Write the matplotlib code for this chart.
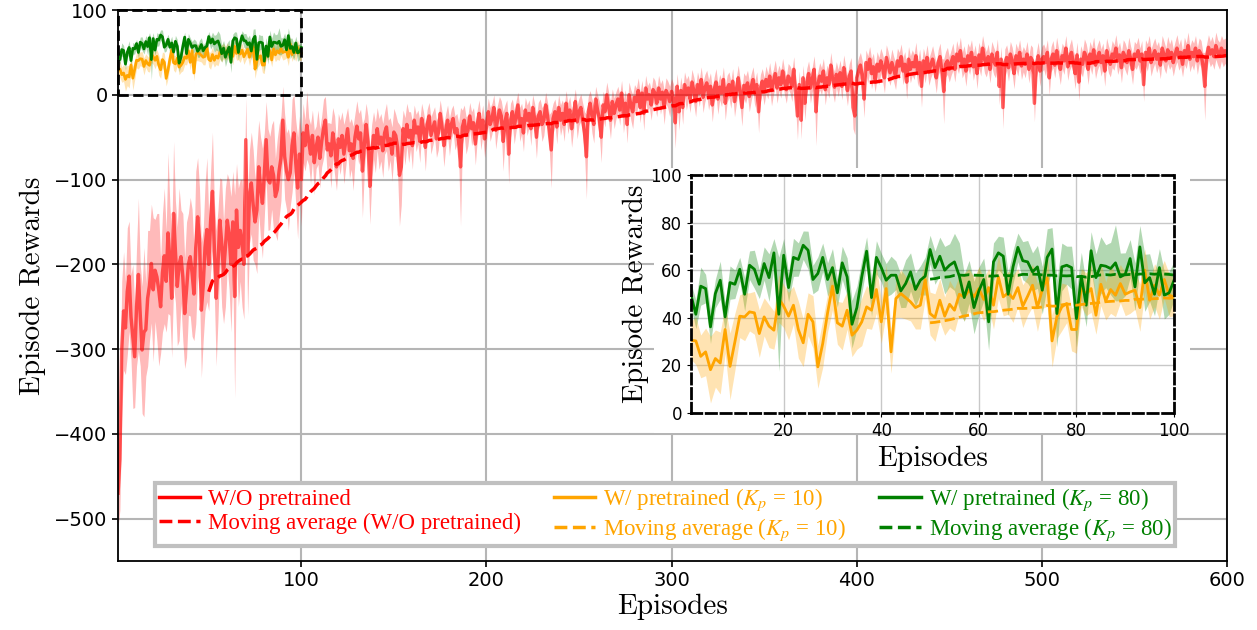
import numpy as np
import pandas as pd
import matplotlib
matplotlib.use('Agg')
import matplotlib.pyplot as plt
from matplotlib.patches import Rectangle
from matplotlib.lines import Line2D

plt.rcParams['mathtext.fontset'] = 'stix'

# ---- episode rewards, no pretraining (600 episodes) ----
red_mean = [
    -470, -430, -300, -255, -275, -232, -214, -262, -285, -309,
    -250, -212, -260, -301, -280, -277, -240, -225, -199, -230,
    -207, -215, -230, -250, -210, -190, -220, -163, -195, -240,
    -140, -185, -226, -200, -191, -215, -258, -230, -200, -191,
    -210, -235, -180, -144, -170, -254, -225, -180, -159, -200,
    -150, -114, -180, -240, -200, -148, -175, -210, -180, -148,
    -165, -200, -150, -238, -136, -180, -160, -175, -200, -53,
    -190, -120, -104, -130, -150, -136, -85, -110, -128, -95,
    -53, -100, -104, -85, -95, -120, -112, -90, -75, -30,
    -73, -90, -100, -92, -60, -45, -80, -110, -70, -100,
    -45, -60, -36, -55, -70, -48, -80, -62, -50, -75,
    -55, -40, -30, -65, -58, -72, -45, -60, -85, -52,
    -62, -48, -70, -55, -40, -66, -58, -75, -50, -37,
    -52, -45, -90, -60, -35, -55, -108, -70, -48, -62,
    -40, -58, -50, -66, -45, -38, -60, -52, -70, -44,
    -48, -62, -95, -85, -40, -55, -35, -50, -42, -60,
    -30, -45, -38, -55, -28, -40, -62, -35, -25, -48,
    -40, -32, -52, -45, -22, -38, -60, -42, -30, -50,
    -35, -28, -45, -40, -55, -85, -38, -30, -48, -42,
    -25, -40, -33, -58, -36, -22, -45, -30, -52, -38,
    -20, -35, -28, -15, -42, -30, -18, -25, -55, -32,
    -22, -70, -30, -20, -38, -25, -12, -35, -28, -45,
    -18, -30, -22, -40, -15, -28, -50, -25, -20, -35,
    -30, -12, -25, -45, -65, -28, -20, -38, -15, -30,
    -22, -35, -10, -28, -18, -40, -25, -8, -32, -20,
    -15, -30, -45, -73, -20, -10, -25, -35, -5, -18,
    -28, -50, -12, -20, 0, -15, -30, -8, -22, -12,
    -5, -18, 2, -25, -10, -35, 0, -12, -20, -3,
    -8, 5, -15, 2, -22, 8, -5, 0, -12, 6,
    2, -10, 8, -5, 3, -15, 5, 0, -8, 4,
    -5, -33, 10, -20, 5, -15, 12, 0, 8, -5,
    15, 5, -8, 12, 2, 18, -3, 8, 14, 0,
    10, -12, 6, 15, -5, 9, 2, 18, -10, 7,
    12, 0, 16, -8, 5, 20, 3, -15, 11, 6,
    14, -2, 9, 18, 1, 12, -20, 8, 16, 4,
    18, 10, 22, 5, 15, 25, 8, 20, 12, 28,
    15, 6, 22, 18, 10, 30, 2, -25, 12, -30,
    20, -10, 15, 25, 8, 18, 30, -20, 12, 22,
    16, 28, 6, 20, 12, 35, 18, 9, 24, 14,
    26, 10, 32, 18, 5, 22, 28, -15, -25, 20,
    28, 35, 22, -5, 38, 30, 42, 25, 33, 18,
    36, 28, 40, 32, 20, 44, 35, 26, 38, 30,
    22, 40, 34, 45, 28, 36, 15, 42, 30, 38,
    33, 46, 25, 38, 10, 40, 30, 44, 27, 35,
    42, 32, 20, 38, 45, 28, 4, 36, 40, 30,
    38, 45, 30, 48, 40, 52, 35, 42, 28, 46,
    40, 50, 33, 44, 25, 47, 38, 55, 42, 36,
    45, 30, 48, 40, 35, 50, 10, 42, -15, 38,
    44, 32, 48, 40, 25, 46, 38, 50, 34, 42,
    36, 48, 30, 44, 40, -10, 35, 46, 28, 42,
    45, 38, 50, 20, 42, 48, 35, 52, 40, 30,
    46, 40, 55, 33, 44, 50, 38, 25, 47, 15,
    42, 36, 50, 45, 30, 48, 40, 53, 35, 44,
    50, 38, 46, 28, 52, 42, 36, 48, 44, 55,
    40, 47, 32, 50, 45, 38, 52, 42, 30, 48,
    45, 52, 40, 48, 12, 50, 44, 55, 38, 46,
    52, 42, 48, 35, 55, 47, 40, 53, 45, 50,
    38, 48, 55, 44, 50, 36, 52, 46, 58, 42,
    50, 45, 55, 40, 52, 48, 35, 10, 44, 56,
    48, 53, 45, 58, 50, 46, 55, 49, 52, 47,
]
red_std = [
    40, 60, 80, 70, 55, 75, 65, 50, 85, 60,
    70, 90, 60, 75, 100, 55, 80, 65, 70, 85,
    60, 75, 90, 55, 70, 80, 60, 95, 65, 70,
    85, 60, 70, 90, 55, 75, 65, 80, 60, 70,
    75, 55, 90, 70, 60, 80, 65, 75, 85, 55,
    60, 70, 55, 80, 65, 50, 75, 60, 70, 55,
    65, 80, 60, 120, 55, 70, 60, 75, 65, 50,
    70, 55, 60, 65, 50, 75, 55, 60, 65, 50,
    45, 60, 55, 50, 65, 45, 60, 55, 50, 40,
    50, 45, 60, 40, 55, 45, 50, 60, 45, 55,
    35, 30, 40, 28, 35, 30, 38, 25, 32, 35,
    30, 35, 28, 32, 25, 38, 30, 35, 28, 30,
    32, 28, 35, 30, 25, 33, 30, 38, 28, 30,
    30, 28, 55, 32, 25, 30, 45, 35, 28, 30,
    25, 30, 28, 32, 25, 28, 30, 25, 32, 28,
    25, 30, 60, 45, 22, 28, 25, 30, 22, 28,
    18, 22, 20, 25, 18, 20, 28, 18, 16, 22,
    20, 18, 22, 20, 16, 18, 25, 20, 18, 22,
    18, 16, 20, 18, 22, 70, 20, 18, 22, 18,
    16, 20, 18, 25, 18, 16, 20, 18, 22, 18,
    16, 20, 18, 15, 22, 18, 16, 18, 35, 20,
    16, 35, 20, 15, 20, 18, 15, 20, 18, 22,
    15, 18, 16, 20, 15, 18, 25, 16, 15, 20,
    18, 15, 16, 22, 45, 18, 15, 20, 15, 18,
    16, 20, 15, 18, 16, 22, 18, 15, 20, 16,
    16, 20, 25, 50, 18, 15, 20, 22, 15, 18,
    20, 30, 16, 18, 15, 18, 22, 15, 18, 16,
    15, 18, 15, 20, 16, 22, 15, 18, 20, 15,
    16, 15, 18, 15, 20, 15, 16, 15, 18, 15,
    15, 16, 15, 18, 15, 20, 15, 16, 18, 15,
    18, 30, 15, 22, 16, 20, 15, 18, 15, 16,
    15, 16, 18, 15, 16, 15, 18, 16, 15, 18,
    16, 20, 15, 16, 18, 15, 16, 15, 20, 16,
    15, 16, 15, 18, 16, 15, 16, 22, 15, 16,
    15, 18, 16, 15, 16, 15, 25, 16, 15, 16,
    16, 15, 16, 18, 15, 16, 18, 15, 16, 15,
    15, 16, 15, 16, 18, 15, 16, 28, 16, 22,
    15, 20, 16, 15, 18, 15, 16, 40, 15, 16,
    16, 15, 18, 15, 16, 15, 16, 18, 15, 16,
    15, 16, 15, 16, 18, 15, 16, 25, 22, 15,
    16, 15, 18, 22, 15, 16, 15, 18, 16, 15,
    15, 16, 15, 16, 18, 15, 16, 15, 16, 15,
    16, 15, 16, 15, 16, 15, 20, 15, 16, 15,
    15, 16, 15, 16, 25, 15, 16, 15, 16, 15,
    16, 15, 18, 15, 16, 15, 38, 15, 16, 15,
    15, 16, 15, 16, 15, 16, 15, 16, 18, 15,
    16, 15, 16, 15, 18, 15, 16, 15, 16, 15,
    15, 16, 15, 16, 15, 16, 22, 15, 25, 16,
    15, 16, 15, 16, 18, 15, 16, 15, 16, 15,
    16, 15, 16, 15, 16, 22, 15, 16, 18, 15,
    15, 16, 15, 20, 15, 16, 15, 16, 15, 18,
    15, 16, 15, 16, 15, 16, 15, 18, 15, 22,
    16, 15, 16, 15, 18, 15, 16, 15, 16, 15,
    15, 16, 15, 18, 15, 16, 15, 16, 15, 16,
    16, 15, 18, 15, 16, 15, 16, 15, 18, 15,
    15, 16, 15, 16, 20, 15, 16, 15, 16, 15,
    15, 16, 15, 16, 15, 16, 15, 16, 15, 16,
    16, 15, 16, 15, 16, 15, 16, 15, 16, 15,
    15, 16, 15, 16, 15, 16, 15, 40, 16, 15,
    15, 16, 15, 16, 15, 16, 15, 16, 15, 14,
]

# ---- pretrained, Kp = 10 (first 100 episodes) ----
kp10_mean = [
    30.6, 30.3, 23.8, 25.7, 18.2, 22.9, 21.0, 35.1, 19.6, 29.9,
    40.7, 40.4, 42.5, 42.1, 33.4, 40.4, 36.5, 34.8, 48.1, 44.9,
    40.7, 45.3, 35.1, 29.5, 41.5, 38.3, 19.4, 29.2, 42.1, 53.3,
    37.9, 36.5, 43.2, 32.7, 34.8, 38.3, 44.6, 43.2, 51.9, 38.3,
    52.3, 25.7, 48.1, 50.2, 48.5, 46.7, 44.3, 45.3, 56.1, 41.8,
    40.1, 47.4, 40.7, 45.7, 43.2, 49.9, 48.8, 51.6, 48.8, 52.3,
    47.7, 52.7, 45.3, 57.2, 48.8, 50.5, 48.1, 52.7, 44.9, 49.1,
    53.7, 44.3, 51.9, 56.9, 30.3, 40.4, 44.6, 46.0, 35.1, 35.1,
    52.7, 49.9, 52.3, 41.1, 54.1, 47.1, 51.9, 49.5, 54.4, 49.9,
    50.9, 51.6, 44.3, 60.0, 47.4, 53.7, 49.5, 56.1, 49.5, 48.8,
]
kp10_std = [
    8, 10, 9, 10, 14, 12, 13, 10, 14, 12,
    9, 10, 8, 9, 10, 8, 9, 8, 10, 9,
    10, 8, 12, 10, 9, 11, 9, 10, 8, 10,
    9, 10, 8, 9, 8, 10, 9, 8, 10, 9,
    10, 9, 8, 10, 9, 8, 9, 10, 8, 9,
    10, 9, 8, 10, 9, 8, 10, 9, 8, 9,
    9, 8, 10, 9, 8, 9, 10, 8, 9, 8,
    9, 10, 8, 12, 11, 9, 10, 8, 9, 10,
    8, 9, 10, 8, 9, 8, 10, 9, 8, 9,
    9, 8, 10, 9, 8, 9, 10, 8, 9, 8,
]

# ---- pretrained, Kp = 80 (first 100 episodes) ----
kp80_mean = [
    49.5, 41.5, 53.3, 52.3, 36.2, 50.2, 55.8, 40.4, 54.8, 54.1,
    60.4, 49.9, 62.1, 60.4, 54.1, 62.8, 56.9, 67.3, 41.5, 66.3,
    52.7, 65.4, 64.5, 70.5, 68.4, 56.1, 58.6, 65.4, 56.1, 61.1,
    50.5, 63.1, 57.2, 37.3, 44.3, 57.2, 68.0, 48.5, 65.4, 61.1,
    55.8, 57.9, 57.9, 51.3, 54.4, 59.3, 51.9, 55.8, 57.5, 68.7,
    61.1, 65.9, 60.0, 62.1, 63.5, 57.5, 48.5, 55.1, 44.3, 51.3,
    56.1, 38.3, 63.5, 67.3, 65.9, 49.9, 61.4, 69.6, 64.0, 63.5,
    59.3, 61.4, 51.6, 65.4, 68.9, 41.8, 61.4, 62.1, 61.1, 39.7,
    57.5, 45.3, 68.2, 56.9, 62.1, 61.7, 60.7, 63.1, 57.2, 58.3,
    64.9, 53.0, 69.8, 54.7, 56.9, 49.9, 61.1, 49.5, 50.5, 55.8,
]
kp80_std = [
    5, 6, 8, 6, 7, 6, 8, 6, 7, 6,
    5, 7, 6, 8, 6, 7, 10, 6, 24, 7,
    6, 8, 7, 6, 8, 6, 7, 6, 7, 8,
    6, 7, 8, 10, 9, 7, 6, 8, 7, 6,
    7, 8, 6, 7, 10, 8, 7, 6, 8, 6,
    7, 8, 10, 9, 12, 14, 10, 9, 11, 10,
    9, 12, 8, 7, 8, 9, 7, 6, 8, 9,
    8, 9, 10, 12, 9, 14, 10, 8, 9, 12,
    10, 9, 8, 10, 12, 9, 11, 16, 10, 9,
    8, 10, 9, 12, 10, 9, 8, 10, 9, 8,
]

window = 50
ep_all = np.arange(1, len(red_mean) + 1)
ep_short = np.arange(1, len(kp10_mean) + 1)

red_mean = np.array(red_mean, dtype=float)
red_std = np.array(red_std, dtype=float)
kp10_mean = np.array(kp10_mean)
kp10_std = np.array(kp10_std, dtype=float)
kp80_mean = np.array(kp80_mean)
kp80_std = np.array(kp80_std, dtype=float)

red_ma = pd.Series(red_mean).rolling(window).mean()
kp10_ma = pd.Series(kp10_mean).rolling(window).mean()
kp80_ma = pd.Series(kp80_mean).rolling(window).mean()

serif = 'cmr10'
grid_c = '#b5b5b5'

fig = plt.figure(figsize=(12.57, 6.3), dpi=100)
ax = fig.add_axes([0.0939, 0.1095, 0.8822, 0.8746])

# main curve
ax.fill_between(ep_all, red_mean - red_std, red_mean + red_std,
                color='red', alpha=0.27, lw=0)
ax.plot(ep_all, red_mean, color='red', alpha=0.6, lw=2.5)
ax.plot(ep_all, red_ma, '--', color='red', lw=2.5)

# small copies of the pretrained curves in the top-left box
ax.fill_between(ep_short, kp10_mean - kp10_std, kp10_mean + kp10_std,
                color='orange', alpha=0.3, lw=0)
ax.fill_between(ep_short, kp80_mean - kp80_std, kp80_mean + kp80_std,
                color='green', alpha=0.3, lw=0)
ax.plot(ep_short, kp10_mean, color='orange', lw=2)
ax.plot(ep_short, kp80_mean, color='green', lw=2)
ax.add_patch(Rectangle((1, 0), 99, 100, fill=False, ls='--', lw=2,
                       edgecolor='black', zorder=5, clip_on=False))

ax.set_xlim(1, 600)
ax.set_ylim(-550, 100)
ax.set_xticks([100, 200, 300, 400, 500, 600])
ax.set_yticks([-500, -400, -300, -200, -100, 0, 100])
ax.tick_params(labelsize=14, width=1.2, length=4)
ax.grid(True, color=grid_c, lw=1.5)
ax.set_axisbelow(True)
for s in ax.spines.values():
    s.set_linewidth(1.3)
ax.set_xlabel('Episodes', fontsize=21, family=serif, labelpad=2)
ax.set_ylabel('Episode Rewards', fontsize=21, family=serif, labelpad=6)

handles = [
    Line2D([], [], color='red', lw=2.5, label='W/O pretrained'),
    Line2D([], [], color='red', lw=2.5, ls='--', label='Moving average (W/O pretrained)'),
    Line2D([], [], color='orange', lw=2.5, label=r'W/ pretrained ($K_p$ = 10)'),
    Line2D([], [], color='orange', lw=2.5, ls='--', label=r'Moving average ($K_p$ = 10)'),
    Line2D([], [], color='green', lw=2.5, label=r'W/ pretrained ($K_p$ = 80)'),
    Line2D([], [], color='green', lw=2.5, ls='--', label=r'Moving average ($K_p$ = 80)'),
]
leg = ax.legend(handles=handles, ncol=3, loc='lower left', mode='expand',
                bbox_to_anchor=(0.0334, 0.0272, 0.9197, 0.1),
                borderaxespad=0, labelcolor='linecolor',
                prop={'family': 'Liberation Serif', 'size': 16.5},
                fancybox=False, framealpha=1, edgecolor='#c0c0c0',
                handlelength=1.8, handletextpad=0.35,
                borderpad=0.15, labelspacing=0.15)
leg.get_frame().set_linewidth(3)

# white backing behind the zoomed panel
cover = fig.add_axes([0.5203, 0.3127, 0.4264, 0.4206])
cover.set_xticks([])
cover.set_yticks([])
for s in cover.spines.values():
    s.set_visible(False)
cover.set_facecolor('white')

# zoomed panel: first 100 episodes with pretraining
ins = fig.add_axes([0.5497, 0.3444, 0.3843, 0.3778])
ins.fill_between(ep_short, kp80_mean - kp80_std, kp80_mean + kp80_std,
                 color='green', alpha=0.3, lw=0)
ins.fill_between(ep_short, kp10_mean - kp10_std, kp10_mean + kp10_std,
                 color='orange', alpha=0.3, lw=0)
ins.plot(ep_short, kp10_mean, color='orange', lw=2)
ins.plot(ep_short, kp80_mean, color='green', lw=2)
ins.plot(ep_short, kp10_ma, '--', color='orange', lw=2)
ins.plot(ep_short, kp80_ma, '--', color='green', lw=2)
ins.set_xlim(1, 100)
ins.set_ylim(0, 100)
ins.set_xticks([20, 40, 60, 80, 100])
ins.set_yticks([0, 20, 40, 60, 80, 100])
ins.tick_params(labelsize=12, length=3)
ins.grid(True, color='#c8c8c8', lw=1)
ins.set_axisbelow(True)
for s in ins.spines.values():
    s.set_linestyle('--')
    s.set_linewidth(2)
ins.set_xlabel('Episodes', fontsize=21, family=serif, labelpad=4)
ins.set_ylabel('Episode Rewards', fontsize=21, family=serif, labelpad=1)

fig.savefig('out.png', dpi=100)
